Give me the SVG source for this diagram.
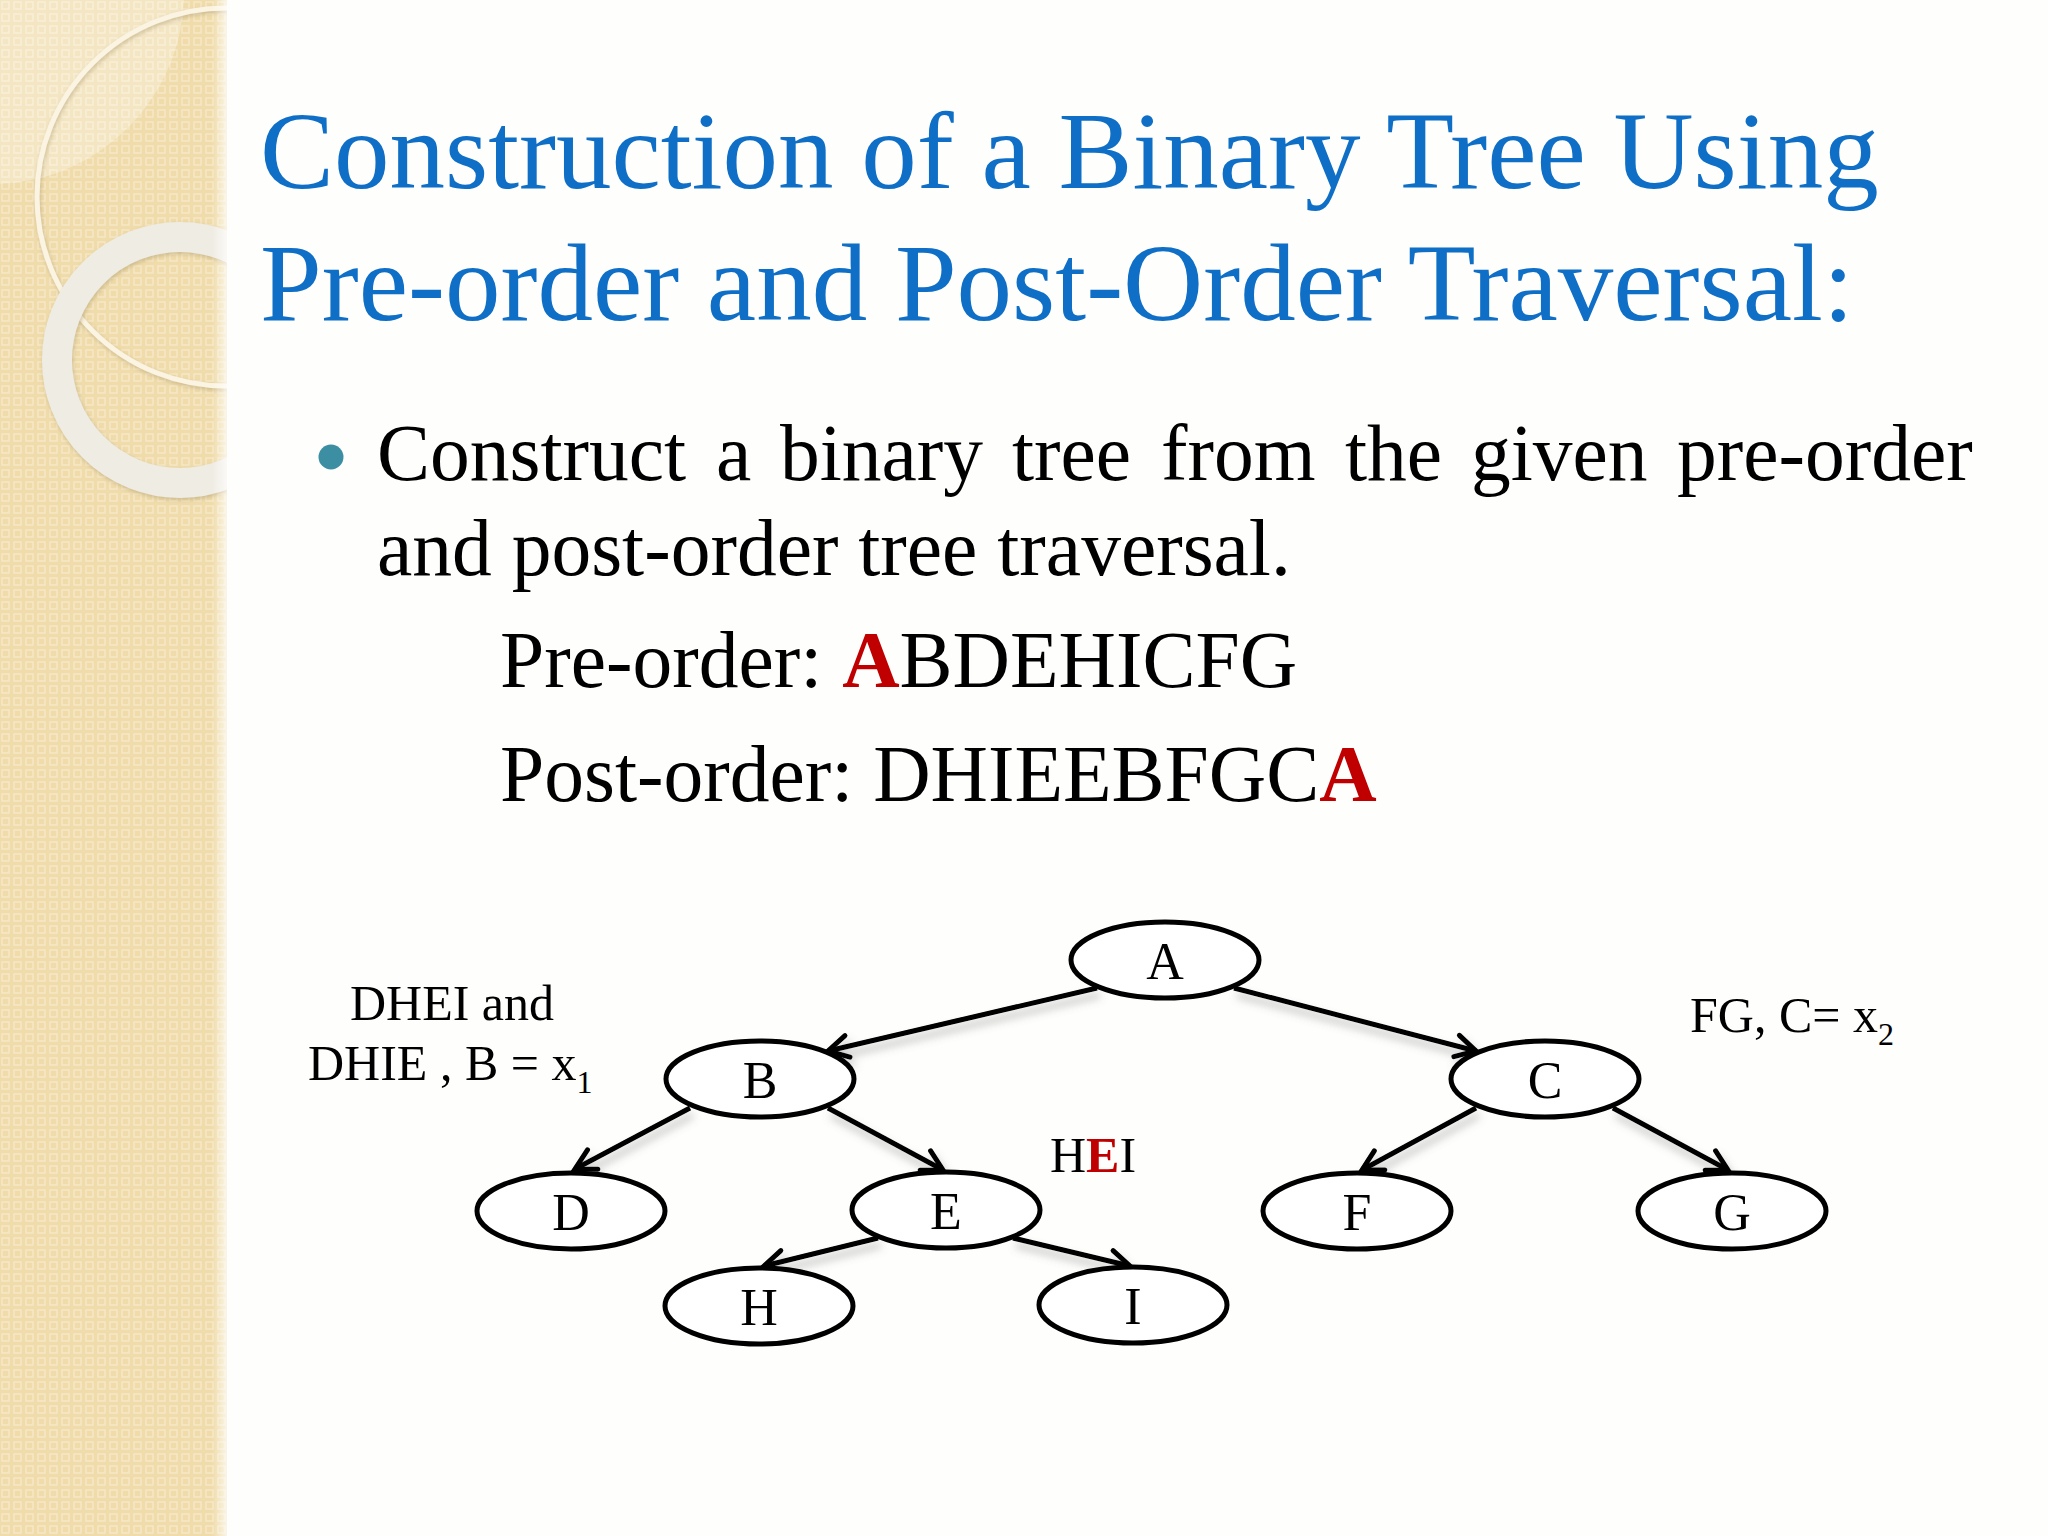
<svg xmlns="http://www.w3.org/2000/svg" width="2048" height="1536" viewBox="0 0 2048 1536">
  <defs>
    <pattern id="tex" width="12" height="12" patternUnits="userSpaceOnUse">
      <rect width="12" height="12" fill="#F0DCAA"/>
      <rect x="2" y="2" width="7" height="7" fill="none" stroke="#F6E8C6" stroke-width="1.6"/>
    </pattern>
    <linearGradient id="edge" x1="0" y1="0" x2="1" y2="0">
      <stop offset="0" stop-color="#ffffff" stop-opacity="0"/>
      <stop offset="1" stop-color="#ffffff" stop-opacity="0.7"/>
    </linearGradient>
    <clipPath id="side"><rect x="0" y="0" width="227" height="1536"/></clipPath>
    <filter id="sh" x="-10%" y="-30%" width="130%" height="180%">
      <feDropShadow dx="3" dy="7" stdDeviation="4" flood-color="#777" flood-opacity="0.45"/>
    </filter>
    <filter id="ringsh" x="-20%" y="-20%" width="140%" height="140%">
      <feDropShadow dx="1" dy="2" stdDeviation="2" flood-color="#a89466" flood-opacity="0.5"/>
    </filter>
    <marker id="arr" markerWidth="30" markerHeight="30" refX="0" refY="0" viewBox="-26 -15 30 30" markerUnits="userSpaceOnUse" orient="auto">
      <path d="M -20 -11 L 0 0 L -20 11" fill="none" stroke="#000" stroke-width="5" stroke-linecap="round" stroke-linejoin="miter"/>
    </marker>
    <style>
      .title { font-family: "Liberation Serif", "Times New Roman", serif; font-size: 111px; fill: #0F6FC6; }
      .body { font-family: "Liberation Serif", "Times New Roman", serif; font-size: 79.5px; fill: #000; }
      .lab { font-family: "Liberation Serif", "Times New Roman", serif; font-size: 50px; fill: #000; }
      .red { fill: #C00000; font-weight: bold; }
      .node ellipse { fill: #ffffff; stroke: #000; stroke-width: 5; }
      .node text { font-family: "Liberation Serif", "Times New Roman", serif; font-size: 52px; fill: #000; text-anchor: middle; }
      .edge { stroke: #000; stroke-width: 5; fill: none; marker-end: url(#arr); }
    </style>
  </defs>

  <!-- background -->
  <rect x="0" y="0" width="2048" height="1536" fill="#FEFEFD"/>
  <g id="sidebar">
    <rect x="0" y="0" width="227" height="1536" fill="url(#tex)"/>
    <g clip-path="url(#side)">
      <circle cx="-8" cy="-8" r="192" fill="#ffffff" fill-opacity="0.3"/>
      <circle cx="226" cy="197" r="189" fill="none" stroke="#FBF4E2" stroke-width="5" filter="url(#ringsh)"/>
      <circle cx="180" cy="360" r="123" fill="none" stroke="#EFECE3" stroke-width="30" filter="url(#ringsh)"/>
    </g>
    <rect x="212" y="0" width="15" height="1536" fill="url(#edge)"/>
  </g>

  <!-- title -->
  <g id="title">
    <text class="title" x="260" y="188">Construction of a Binary Tree Using</text>
    <text class="title" x="260" y="320">Pre-order and Post-Order Traversal:</text>
  </g>

  <!-- body text -->
  <g id="body">
    <circle cx="331" cy="457" r="12.5" fill="#3C8FA3"/>
    <text class="body" y="480"><tspan x="377">Construct</tspan><tspan x="716">a</tspan><tspan x="780">binary</tspan><tspan x="1012">tree</tspan><tspan x="1161">from</tspan><tspan x="1345">the</tspan><tspan x="1471">given</tspan><tspan x="1677">pre-order</tspan></text>
    <text class="body" x="377" y="575">and post-order tree traversal.</text>
    <text class="body" x="500" y="687">Pre-order: <tspan class="red">A</tspan>BDEHICFG</text>
    <text class="body" x="500" y="801">Post-order: DHIEEBFGC<tspan class="red">A</tspan></text>
  </g>

  <!-- connectors -->
  <g id="connectors" filter="url(#sh)">
    <line class="edge" x1="1097" y1="988" x2="828" y2="1051"/>
    <line class="edge" x1="1234" y1="988" x2="1476" y2="1051"/>
    <line class="edge" x1="690" y1="1108" x2="575" y2="1169"/>
    <line class="edge" x1="828" y1="1108" x2="943" y2="1170"/>
    <line class="edge" x1="878" y1="1238" x2="764" y2="1266"/>
    <line class="edge" x1="1013" y1="1238" x2="1130" y2="1266"/>
    <line class="edge" x1="1476" y1="1108" x2="1362" y2="1170"/>
    <line class="edge" x1="1613" y1="1108" x2="1728" y2="1170"/>
  </g>

  <!-- nodes -->
  <g id="node-A" class="node"><ellipse cx="1165" cy="960" rx="94" ry="38"/><text x="1165" y="979">A</text></g>
  <g id="node-B" class="node"><ellipse cx="760" cy="1079" rx="94" ry="38"/><text x="760" y="1098">B</text></g>
  <g id="node-C" class="node"><ellipse cx="1545" cy="1079" rx="94" ry="38"/><text x="1545" y="1098">C</text></g>
  <g id="node-D" class="node"><ellipse cx="571" cy="1211" rx="94" ry="38"/><text x="571" y="1230">D</text></g>
  <g id="node-E" class="node"><ellipse cx="946" cy="1210" rx="94" ry="38"/><text x="946" y="1229">E</text></g>
  <g id="node-F" class="node"><ellipse cx="1357" cy="1211" rx="94" ry="38"/><text x="1357" y="1230">F</text></g>
  <g id="node-G" class="node"><ellipse cx="1732" cy="1211" rx="94" ry="38"/><text x="1732" y="1230">G</text></g>
  <g id="node-H" class="node"><ellipse cx="759" cy="1306" rx="94" ry="38"/><text x="759" y="1325">H</text></g>
  <g id="node-I" class="node"><ellipse cx="1133" cy="1305" rx="94" ry="38"/><text x="1133" y="1324">I</text></g>

  <!-- annotations -->
  <g id="annotations">
    <text class="lab" x="452" y="1020" text-anchor="middle">DHEI and</text>
    <text class="lab" x="308" y="1080">DHIE , B = x<tspan font-size="32" dy="13">1</tspan></text>
    <text class="lab" x="1690" y="1032">FG, C= x<tspan font-size="32" dy="13">2</tspan></text>
    <text class="lab" x="1050" y="1172">H<tspan class="red">E</tspan>I</text>
  </g>
</svg>
